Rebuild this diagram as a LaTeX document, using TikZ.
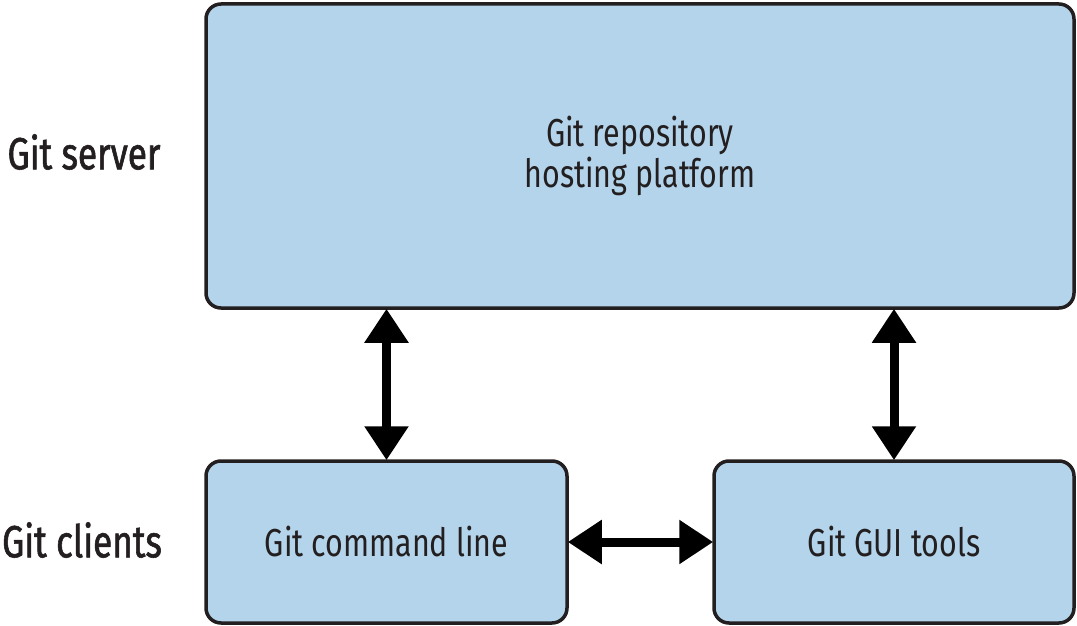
\documentclass[tikz,border=0pt]{standalone}
\usepackage{fontspec}
\setmainfont{Fira Sans}[FakeStretch=0.78]
\usetikzlibrary{arrows.meta}
\definecolor{boxfill}{HTML}{B3D4EA}
\definecolor{ink}{HTML}{231F20}
\begin{document}
\begin{tikzpicture}[x=1pt,y=-1pt,
  box/.style={draw=ink, fill=boxfill, line width=3.5pt, rounded corners=15pt,
    inner sep=0pt, text=ink, align=center,
    font=\fontsize{39}{41}\selectfont},
  sidelabel/.style={text=ink, inner sep=0pt, font=\fontsize{45}{47}\selectfont\addfontfeature{FakeBold=1.3}},
  link/.style={draw=black, line width=9pt, {Triangle[width=42pt,length=34pt]}-{Triangle[width=42pt,length=34pt]}, shorten <=-1pt, shorten >=-1pt}
]
\useasboundingbox (0,0) rectangle (1077,626);
\node[box, minimum width=868pt, minimum height=304pt] (host) at (640,156) {Git repository\\hosting platform};
\node[box, minimum width=361pt, minimum height=162pt] (cmd) at (386.5,542) {Git command line};
\node[box, minimum width=360pt, minimum height=162pt] (gui) at (894,542) {Git GUI tools};
\node[sidelabel] (server) at (84,152) {Git server};
\node[sidelabel] (clients) at (82,540) {Git clients};
\draw[link] (cmd.north) -- (cmd.north |- host.south);
\draw[link] (gui.north) -- (gui.north |- host.south);
\draw[link] (cmd.east) -- (gui.west);
\end{tikzpicture}
\end{document}
